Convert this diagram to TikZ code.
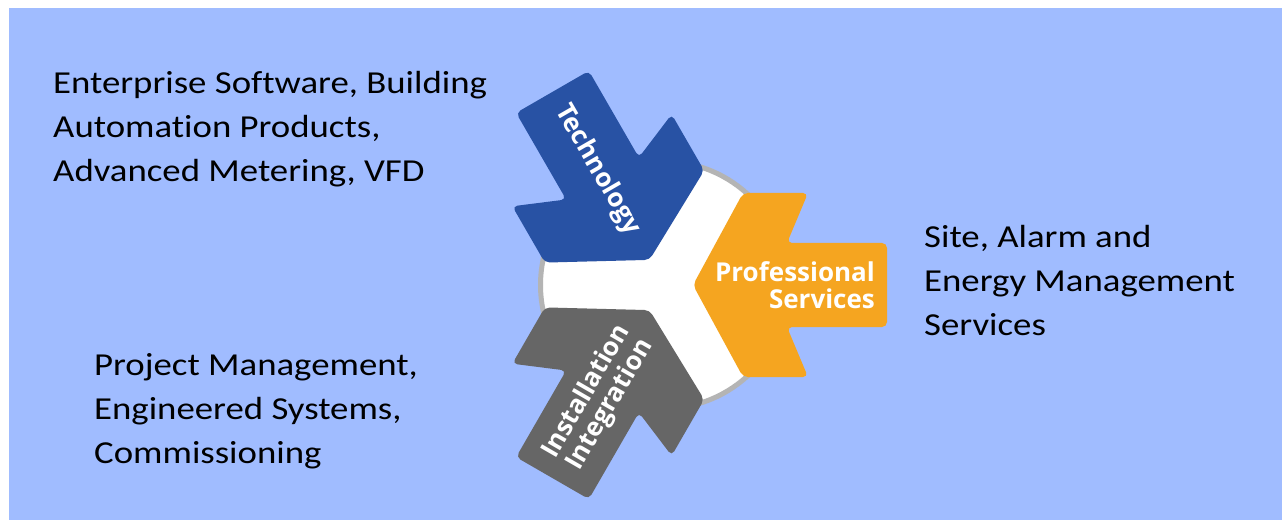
\documentclass[tikz,border=0pt]{standalone}
\usepackage{fontspec}
\setmainfont[Ligatures=NoCommon, FakeStretch=1.15]{Carlito}
\newfontfamily\arrowfont{Open Sans}
\definecolor{bgblue}{HTML}{A0BCFF}
\definecolor{techblue}{HTML}{2852A4}
\definecolor{proforange}{HTML}{F5A520}
\definecolor{instgray}{HTML}{666666}
\definecolor{ringgray}{HTML}{B4B4B4}
\tikzset{
  bigarrow/.pic={
    \path[pic actions, rounded corners=5pt, shift={(29,0)}]
      (0,0) -- (50,92) -- (115,92) -- (94,42) -- (194,42) -- (194,-42)
      -- (94,-42) -- (115,-92) -- (50,-92) -- cycle;
  },
  sidetext/.style={anchor=base west, align=left, inner sep=0pt, text=black,
    font=\fontsize{32}{44}\selectfont},
  arrowtext/.style={text=white, inner sep=0pt,
    font=\arrowfont\bfseries\fontsize{26}{27}\selectfont}
}
\begin{document}
\begin{tikzpicture}[x=1pt,y=1pt]
\useasboundingbox (0,0) rectangle (1282,520);
\fill[white] (0,0) rectangle (1282,520);
\fill[bgblue] (9,0) rectangle (1282,512);
\coordinate (C) at (664,235);
\node[circle, draw=ringgray, line width=5pt, fill=white, minimum size=247pt, inner sep=0pt] (ring) at (C) {};
\pic[fill=techblue, rotate=120] (techarrow) at (C) {bigarrow};
\pic[fill=proforange, rotate=0] (profarrow) at (C) {bigarrow};
\pic[fill=instgray, rotate=240] (instarrow) at (C) {bigarrow};
\node[arrowtext, rotate=-60, align=center] (tech) at ([shift={(120:133)}]C) {Technology};
\node[arrowtext, align=right] (prof) at ([shift={(0:131)}]C) {Professional\\Services};
\node[arrowtext, rotate=60, align=center] (inst) at ([shift={(240:131)}]C) {Installation\\Integration};
\node[sidetext] (t1) at (53,338) {Enterprise Software, Building\\Automation Products,\\Advanced Metering, VFD};
\node[sidetext] (t2) at (94,57) {Project Management,\\Engineered Systems,\\Commissioning};
\node[sidetext] (t3) at (924,185) {Site, Alarm and\\Energy Management\\Services};
\end{tikzpicture}
\end{document}
